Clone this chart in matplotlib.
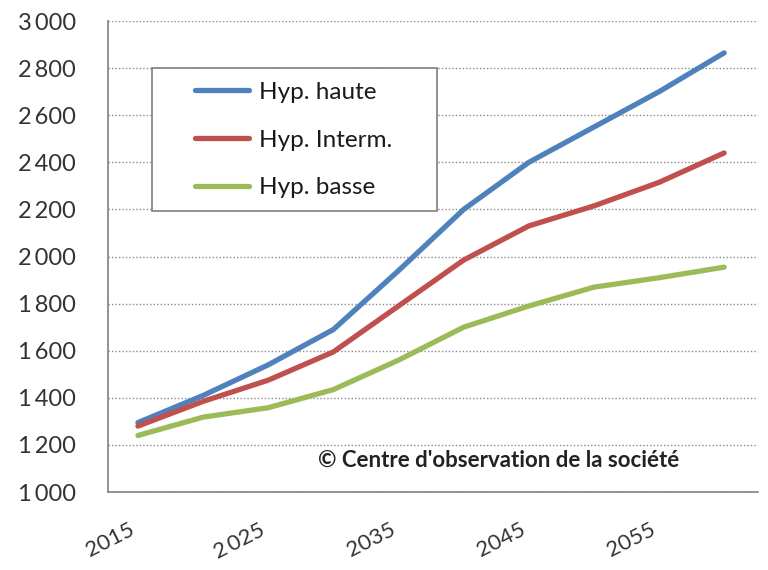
import matplotlib
matplotlib.use("Agg")
import matplotlib.pyplot as plt
from matplotlib.patches import Rectangle

plt.rcParams['font.family'] = ['Lato', 'DejaVu Sans']

# data (every 5 years)
years = [2015, 2020, 2025, 2030, 2035, 2040, 2045, 2050, 2055, 2060]
haute = [1295, 1410, 1540, 1690, 1940, 2200, 2400, 2550, 2700, 2865]
interm = [1280, 1385, 1475, 1595, 1790, 1985, 2130, 2215, 2315, 2440]
basse = [1240, 1318, 1358, 1435, 1560, 1700, 1790, 1870, 1910, 1955]

series_names = ['Hyp. haute', 'Hyp. Interm.', 'Hyp. basse']
colors = ['#4F81BD', '#C0504D', '#9BBB59']

x_ticks = [2015, 2025, 2035, 2045, 2055]
x_labels = ['2015', '2\u2009025', '2035', '2045', '2055']
y_ticks = [1000, 1200, 1400, 1600, 1800, 2000, 2200, 2400, 2600, 2800, 3000]
y_labels = ['1\u2009000', '1\u2009200', '1\u2009400', '1\u2009600', '1\u2009800', '2\u2009000',
            '2\u2009200', '2\u2009400', '2\u2009600', '2\u2009800', '3\u2009000']


fig = plt.figure(figsize=(7.68, 5.70), dpi=100)
ax = fig.add_axes([0.1406, 0.1368, 0.8464, 0.8262])

lines = []
for vals, name, c in zip([haute, interm, basse], series_names, colors):
    l, = ax.plot(years, vals, color=c, lw=3.8, label=name, solid_capstyle='round',
                 solid_joinstyle='round')
    lines.append(l)

ax.set_xlim(2012.7, 2062.6)
ax.set_ylim(1000, 3000)

ax.set_yticks(y_ticks)
ax.set_yticklabels(y_labels, fontsize=17, color='#333333')
ax.set_xticks(x_ticks)
ax.set_xticklabels(x_labels, fontsize=16, color='#333333', rotation=27, ha='right', va='top')
ax.tick_params(axis='y', length=0, pad=23)
ax.tick_params(axis='x', length=0, pad=20)

ax.grid(axis='y', linestyle=(0, (1, 1.5)), color='#8a8a8a', lw=1)
ax.set_axisbelow(True)
ax.spines['top'].set_visible(False)
ax.spines['right'].set_visible(False)
ax.spines['left'].set_color('#808080')
ax.spines['bottom'].set_color('#808080')
ax.spines['left'].set_linewidth(1.2)
ax.spines['bottom'].set_linewidth(1.2)

# legend frame drawn by hand, entries inside
ax.add_patch(Rectangle((0.0677, 0.597), 0.4385, 0.303, transform=ax.transAxes,
                       facecolor='white', edgecolor='#7f7f7f', lw=1.2, zorder=5))
leg = ax.legend(handles=lines, loc='upper left', bbox_to_anchor=(0.104, 0.912),
                frameon=False, fontsize=17.5, handlelength=2.2, handletextpad=0.45,
                labelspacing=1.1, borderpad=0.3)
leg.set_zorder(6)
for t in leg.get_texts():
    t.set_color('#1a1a1a')

ax.text(0.601, 0.068, '\u00a9 Centre d\'observation de la soci\u00e9t\u00e9', transform=ax.transAxes,
        ha='center', va='center', fontsize=16, fontweight='bold', color='#222222')

fig.savefig('out.png', dpi=100, facecolor='white')
